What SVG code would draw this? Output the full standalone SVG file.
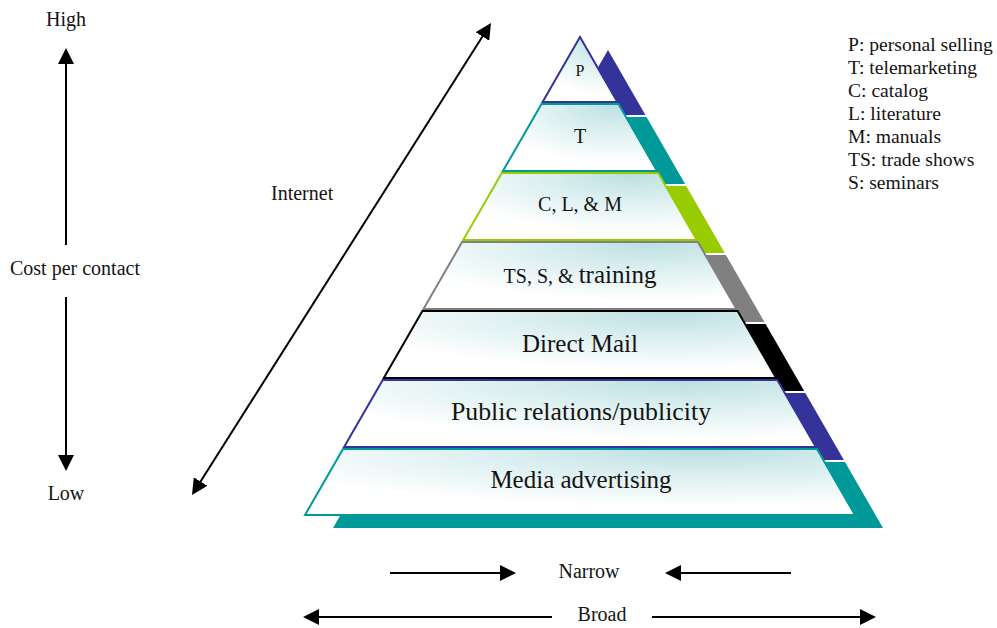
<svg xmlns="http://www.w3.org/2000/svg" width="997" height="628" viewBox="0 0 997 628" font-family="'Liberation Serif', 'DejaVu Serif', serif">
  <style>
    text { fill: #141414; }
    .lbl { font-size: 20px; }
    .key { font-size: 19.6px; }
    .big { font-size: 25px; }
    .mid { text-anchor: middle; }
    .face { fill: url(#faceFill); stroke-width: 2; stroke-linejoin: miter; }
    .arrow { stroke: #000; stroke-width: 2; fill: none; }
    .blue { fill: #333399; } .blue-s { stroke: #333399; }
    .teal { fill: #009999; } .teal-s { stroke: #009999; }
    .lime { fill: #99cc00; } .lime-s { stroke: #99cc00; }
    .grey { fill: #808080; } .grey-s { stroke: #808080; }
    .black { fill: #000000; } .black-s { stroke: #000000; }
  </style>
  <defs>
    <radialGradient id="faceFill" cx="0.72" cy="0.02" r="1" fx="0.72" fy="0.02">
      <stop offset="0" stop-color="#bcdfe1"/>
      <stop offset="0.35" stop-color="#d9eeef"/>
      <stop offset="0.85" stop-color="#ffffff"/>
    </radialGradient>
    <marker id="head" viewBox="0 0 16 16" markerWidth="16" markerHeight="16" refX="13" refY="8" orient="auto-start-reverse" markerUnits="userSpaceOnUse">
      <path d="M0,0 L16,8 L0,16 z" fill="#000"/>
    </marker>
  </defs>

  <rect width="997" height="628" fill="#ffffff"/>

  <!-- pyramid tiers: offset shadow, then the face -->
  <g id="tier-p">
    <polygon class="blue" transform="translate(28,13)" points="580,37 617.4,102 542.6,102"/>
    <polygon class="face blue-s" points="580,37 617.4,102 542.6,102"/>
    <text x="580" y="76" class="mid" font-size="16">P</text>
  </g>
  <g id="tier-t">
    <polygon class="teal" transform="translate(28,13)" points="541.5,104 618.5,104 657.1,171 502.9,171"/>
    <polygon class="face teal-s" points="541.5,104 618.5,104 657.1,171 502.9,171"/>
    <text x="580" y="143" class="mid lbl">T</text>
  </g>
  <g id="tier-clm">
    <polygon class="lime" transform="translate(28,13)" points="501.8,173 658.2,173 696.8,240 463.2,240"/>
    <polygon class="face lime-s" points="501.8,173 658.2,173 696.8,240 463.2,240"/>
    <text x="580" y="211" class="mid lbl">C, L, &amp; M</text>
  </g>
  <g id="tier-ts">
    <polygon class="grey" transform="translate(28,13)" points="462.1,242 697.9,242 736.5,309 423.5,309"/>
    <polygon class="face grey-s" points="462.1,242 697.9,242 736.5,309 423.5,309"/>
    <text x="580" y="283" class="mid lbl">TS, S, &amp; <tspan font-size="25">training</tspan></text>
  </g>
  <g id="tier-dm">
    <polygon class="black" transform="translate(28,13)" points="422.4,311 737.6,311 776.2,378 383.8,378"/>
    <polygon class="face black-s" points="422.4,311 737.6,311 776.2,378 383.8,378"/>
    <text x="580" y="352" class="mid big">Direct Mail</text>
  </g>
  <g id="tier-pr">
    <polygon class="blue" transform="translate(28,13)" points="382.7,380 777.3,380 815.9,447 344.1,447"/>
    <polygon class="face blue-s" points="382.7,380 777.3,380 815.9,447 344.1,447"/>
    <text x="581" y="420" class="mid" font-size="25.8">Public relations/publicity</text>
  </g>
  <g id="tier-media">
    <polygon class="teal" transform="translate(28,13)" points="343,449 817,449 855,515 305,515"/>
    <polygon class="face teal-s" points="343,449 817,449 855,515 305,515"/>
    <text x="581" y="488" class="mid big">Media advertising</text>
  </g>

  <!-- axis labels and legend -->
  <g id="cost-axis">
    <text x="66" y="26" class="mid lbl">High</text>
    <text x="10" y="275" class="lbl">Cost per contact</text>
    <text x="66" y="500" class="mid lbl">Low</text>
  </g>
  <g id="internet">
    <text x="271" y="200" class="lbl">Internet</text>
  </g>
  <g id="reach">
    <text x="589" y="578" class="mid lbl">Narrow</text>
    <text x="602" y="621" class="mid lbl">Broad</text>
  </g>
  <g id="legend">
    <text x="848" y="51" class="key">P: personal selling</text>
    <text x="848" y="74" class="key">T: telemarketing</text>
    <text x="848" y="97" class="key">C: catalog</text>
    <text x="848" y="120" class="key">L: literature</text>
    <text x="848" y="143" class="key">M: manuals</text>
    <text x="848" y="166" class="key">TS: trade shows</text>
    <text x="848" y="189" class="key">S: seminars</text>
  </g>

  <!-- arrows -->
  <g id="connectors">
    <line class="arrow" x1="66" y1="245" x2="66" y2="51" marker-end="url(#head)"/>
    <line class="arrow" x1="66" y1="297" x2="66" y2="468" marker-end="url(#head)"/>
    <line class="arrow" x1="489.4" y1="25.5" x2="193.6" y2="492.5" marker-start="url(#head)" marker-end="url(#head)"/>
    <line class="arrow" x1="390" y1="573" x2="513" y2="573" marker-end="url(#head)"/>
    <line class="arrow" x1="791" y1="573" x2="668" y2="573" marker-end="url(#head)"/>
    <line class="arrow" x1="552" y1="617" x2="306" y2="617" marker-end="url(#head)"/>
    <line class="arrow" x1="652" y1="617" x2="873" y2="617" marker-end="url(#head)"/>
  </g>
</svg>
